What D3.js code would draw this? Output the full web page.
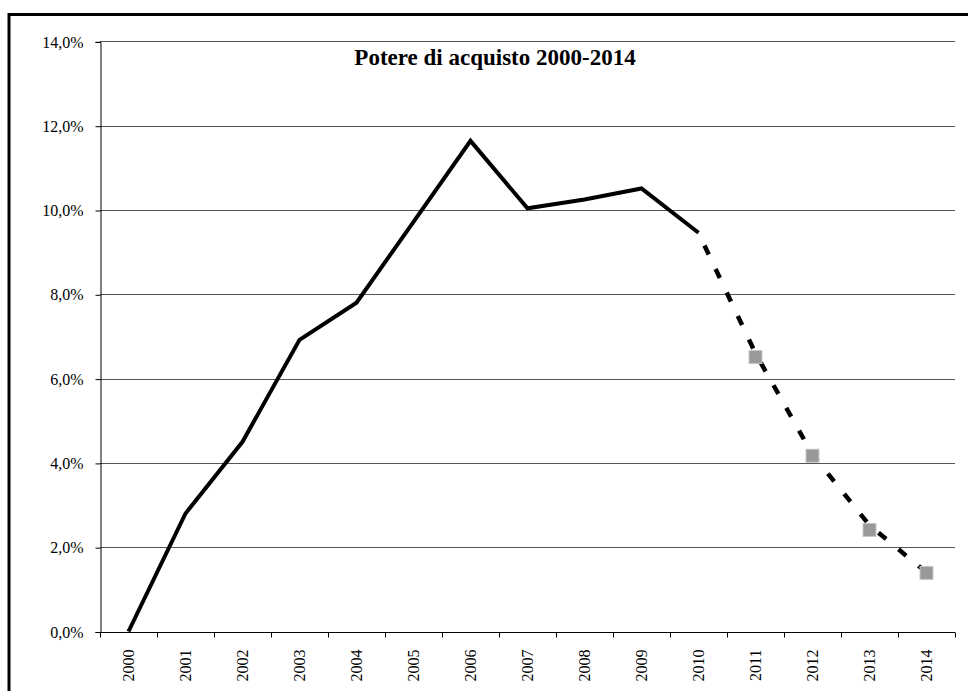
<!DOCTYPE html>
<html>
<head>
<meta charset="utf-8">
<script src="https://cdn.jsdelivr.net/npm/d3@7/dist/d3.min.js"></script>
<style>
  html, body { margin: 0; padding: 0; background: #fff; }
  svg { display: block; font-family: "Liberation Serif", "Times New Roman", serif; }
</style>
</head>
<body>
<svg id="chart" width="968" height="691"></svg>
<script>
const years = ["2000","2001","2002","2003","2004","2005","2006","2007","2008","2009","2010","2011","2012","2013","2014"];
const actualYears = ["2000","2001","2002","2003","2004","2005","2006","2007","2008","2009","2010"];
const actualValues = [0.0, 2.80, 4.50, 6.92, 7.80, 9.72, 11.64, 10.04, 10.25, 10.51, 9.46];
const trendYears = ["2010","2011","2012","2013","2014"];
const trendValues = [9.46, 6.60, 4.20, 2.52, 1.40];
const markerYears = ["2011","2012","2013","2014"];
const markerValues = [6.51, 4.17, 2.41, 1.39];
const yTicks = [0, 2, 4, 6, 8, 10, 12, 14];
const title = "Potere di acquisto 2000-2014";

(function () {
const svg = d3.select("#chart");
const mLeft = 100, mRight = 955, mTop = 41.4, mBottom = 631.5;

const x = d3.scaleBand().domain(years).range([mLeft, mRight]).padding(0);
const y = d3.scaleLinear().domain([0, 14]).range([mBottom, mTop]);
const cx = d => x(d) + x.bandwidth() / 2;
const fmt = v => d3.format(".1f")(v).replace(".", ",") + "%";

// outer frame (top and left visible)
svg.append("line").attr("x1", 8).attr("x2", 968).attr("y1", 14.5).attr("y2", 14.5)
  .attr("stroke", "#000").attr("stroke-width", 3);
svg.append("line").attr("x1", 9).attr("x2", 9).attr("y1", 13).attr("y2", 691)
  .attr("stroke", "#000").attr("stroke-width", 3);

// gridlines
svg.append("g").selectAll("line").data(yTicks.filter(t => t > 0)).join("line")
  .attr("x1", mLeft).attr("x2", mRight)
  .attr("y1", d => Math.round(y(d)) + 0.5).attr("y2", d => Math.round(y(d)) + 0.5)
  .attr("stroke", "#555").attr("stroke-width", 1);

// y axis
const yAxis = d3.axisLeft(y).tickValues(yTicks).tickFormat(fmt).tickSize(5).tickPadding(12);
const gy = svg.append("g").attr("transform", `translate(${mLeft + 0.5},0.5)`).call(yAxis);
gy.select(".domain").attr("stroke", "#000");
gy.selectAll(".tick line").attr("stroke", "#000");
gy.selectAll("text").attr("font-size", 16).attr("fill", "#000")
  .attr("font-family", "'Liberation Serif', 'Times New Roman', serif");

// x axis
const xAxis = d3.axisBottom(x).tickSize(0).tickFormat(d => d);
const gx = svg.append("g").attr("transform", `translate(0,${Math.round(mBottom) + 0.5})`).call(xAxis);
gx.select(".domain").attr("stroke", "#000").attr("d", `M${mLeft},0H${mRight}`);
gx.selectAll(".tick text")
  .attr("font-size", 16).attr("fill", "#000")
  .attr("font-family", "'Liberation Serif', 'Times New Roman', serif")
  .attr("transform", "rotate(-90)")
  .attr("text-anchor", "end")
  .attr("x", -17).attr("y", 0).attr("dy", "0.35em");
// boundary tick marks
gx.append("g").selectAll("line").data(years.concat(["end"])).join("line")
  .attr("x1", (d, i) => Math.round(mLeft + i * x.bandwidth()) + 0.5)
  .attr("x2", (d, i) => Math.round(mLeft + i * x.bandwidth()) + 0.5)
  .attr("y1", 0).attr("y2", 5).attr("stroke", "#000");

// actual line
const line = d3.line().x(d => cx(d[0])).y(d => y(d[1]));
svg.append("path").datum(actualYears.map((d, i) => [d, actualValues[i]]))
  .attr("d", line).attr("fill", "none").attr("stroke", "#000")
  .attr("stroke-width", 4).attr("stroke-linejoin", "miter");

// dashed trend
svg.append("path").datum(trendYears.map((d, i) => [d, trendValues[i]]))
  .attr("d", line).attr("fill", "none").attr("stroke", "#000")
  .attr("stroke-width", 4.5).attr("stroke-dasharray", "10,16").attr("stroke-dashoffset", -14);

// markers
svg.append("g").selectAll("rect").data(markerYears.map((d, i) => [d, markerValues[i]])).join("rect")
  .attr("x", d => cx(d[0]) - 6.5).attr("y", d => y(d[1]) - 6.5)
  .attr("width", 13).attr("height", 13)
  .attr("fill", "#999").attr("stroke", "#c8c8c8").attr("stroke-width", 1);

// title
svg.append("text").attr("x", 495).attr("y", 65).attr("text-anchor", "middle")
  .attr("font-size", 23).attr("font-weight", "bold").attr("fill", "#000")
  .text(title);
})();
</script>
</body>
</html>
